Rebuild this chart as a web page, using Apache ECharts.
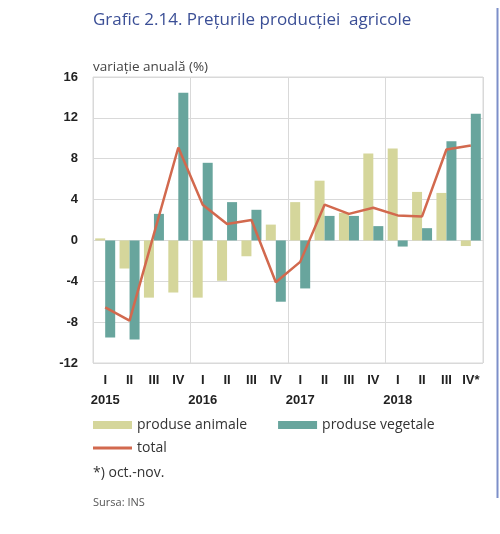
<!DOCTYPE html>
<html>
<head>
<meta charset="utf-8">
<script src="https://cdn.jsdelivr.net/npm/echarts@6/dist/echarts.min.js"></script>
<style>
  html, body { margin: 0; padding: 0; background: #fff; }
  #chart { width: 500px; height: 534px; }
</style>
</head>
<body>
<div id="chart"></div>
<script>
// trimestre si ani
var quarters = ['I', 'II', 'III', 'IV', 'I', 'II', 'III', 'IV', 'I', 'II', 'III', 'IV', 'I', 'II', 'III', 'IV*'];
var years = ['2015', '', '', '', '2016', '', '', '', '2017', '', '', '', '2018', '', '', ''];
// variatie anuala (%)
var animale = [0.2, -2.75, -5.6, -5.1, -5.6, -3.95, -1.55, 1.55, 3.75, 5.85, 2.7, 8.5, 9.0, 4.75, 4.65, -0.55];
var vegetale = [-9.5, -9.7, 2.6, 14.45, 7.6, 3.75, 3.0, -6.0, -4.7, 2.4, 2.4, 1.4, -0.6, 1.2, 9.7, 12.4];
var total = [-6.55, -7.85, 0.65, 9.1, 3.5, 1.6, 2.0, -4.1, -2.1, 3.5, 2.6, 3.2, 2.45, 2.35, 8.9, 9.3];
var yTicks = [-12, -8, -4, 0, 4, 8, 12, 16];

var narrow = "'Liberation Sans Narrow', 'Arial Narrow', sans-serif";
var txt = "'Open Sans', 'Noto Sans', sans-serif";

var myChart = echarts.init(document.getElementById('chart'), null, { renderer: 'canvas' });
var option = {
    animation: false,
    color: ['#d5d69b', '#68a59d', '#d2694e'],
    grid: {
        left: 93, right: 17, top: 77, bottom: 171,
        show: true, borderColor: '#d9d9d9', borderWidth: 1
    },
    xAxis: {
        type: 'category',
        data: quarters,
        axisLine: { show: false },
        axisTick: { show: false },
        splitLine: {
            show: true,
            interval: function (i) { return i % 4 === 0; },
            lineStyle: { color: '#d9d9d9', width: 1 }
        },
        axisLabel: {
            interval: 0,
            margin: 7,
            formatter: function (v, i) {
                return '{q|' + v + '}\n{y|' + (years[i] || ' ') + '}';
            },
            rich: {
                q: { fontFamily: narrow, fontWeight: 'bold', fontSize: 13, color: '#222', lineHeight: 20 },
                y: { fontFamily: narrow, fontWeight: 'bold', fontSize: 13, color: '#222', lineHeight: 20 }
            }
        }
    },
    yAxis: {
        type: 'value',
        min: yTicks[0], max: yTicks[yTicks.length - 1], interval: 4,
        axisLine: { show: false },
        axisTick: { show: false },
        splitLine: { lineStyle: { color: '#d9d9d9', width: 1 } },
        axisLabel: { margin: 15, fontFamily: narrow, fontWeight: 'bold', fontSize: 13, color: '#222' }
    },
    legend: [{
        left: 88, top: 413,
        itemWidth: 39, itemHeight: 8, itemGap: 31,
        icon: 'rect',
        data: ['produse animale', 'produse vegetale'],
        textStyle: { fontFamily: txt, fontSize: 14, color: '#333' }
    }, {
        left: 88, top: 436,
        itemWidth: 39, itemHeight: 3,
        icon: 'rect',
        data: ['total'],
        textStyle: { fontFamily: txt, fontSize: 14, color: '#333' }
    }],
    series: [{
        name: 'produse animale',
        type: 'bar',
        barWidth: 10,
        barGap: '0%',
        data: animale
    }, {
        name: 'produse vegetale',
        type: 'bar',
        barWidth: 10,
        barGap: '0%',
        data: vegetale
    }, {
        name: 'total',
        type: 'line',
        data: total,
        symbol: 'none',
        lineStyle: { width: 2.5, color: '#d2694e' },
        z: 5
    }],
    graphic: [{
        type: 'text', left: 93, top: 12,
        style: { text: 'Grafic 2.14. Prețurile producției  agricole', fontFamily: txt, fontSize: 17, fontWeight: 'normal', fill: '#3b4f96' }
    }, {
        type: 'text', left: 93, top: 60,
        style: { text: 'variație anuală (%)', fontFamily: txt, fontSize: 13.5, fill: '#444' }
    }, {
        type: 'text', left: 93, top: 466,
        style: { text: '*) oct.-nov.', fontFamily: txt, fontSize: 14, fill: '#333' }
    }, {
        type: 'text', left: 93, top: 497,
        style: { text: 'Sursa: INS', fontFamily: txt, fontSize: 11, fill: '#555' }
    }, {
        type: 'line', shape: { x1: 497.5, y1: 8, x2: 497.5, y2: 498 },
        style: { stroke: '#7d8fc9', lineWidth: 2 }
    }]
};
myChart.setOption(option);
</script>
</body>
</html>
